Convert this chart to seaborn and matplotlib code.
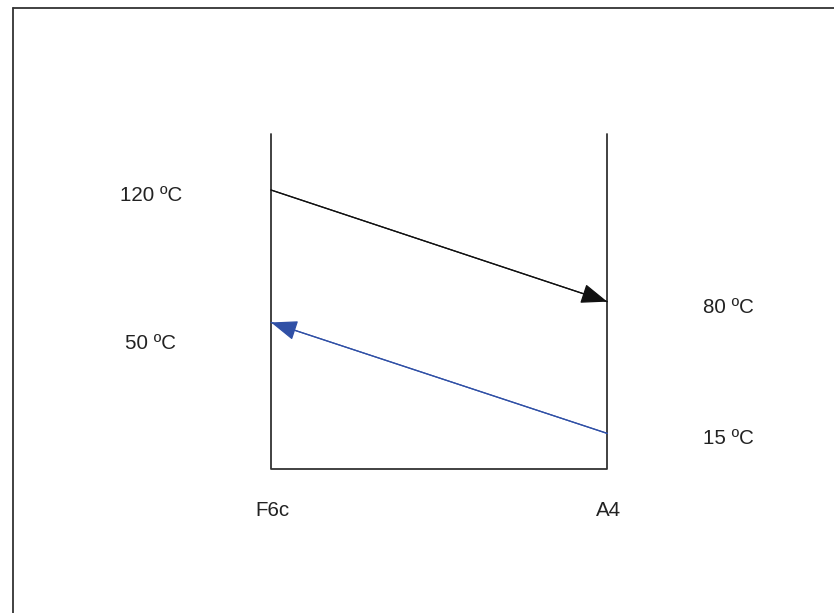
import matplotlib
matplotlib.use("Agg")
import matplotlib.pyplot as plt
from matplotlib.lines import Line2D
import pandas as pd
import seaborn as sns

# Heat exchanger temperature schematic: hot stream F6c -> A4, cold stream A4 -> F6c
ends = ["F6c", "A4"]
hot_temps = [120, 80]        # inlet at F6c, outlet at A4 (ºC)
cold_temps = [15, 50]        # inlet at A4, outlet at F6c (ºC)
hot_levels = [83.3, 50.0]    # schematic height of the hot line at F6c, A4
cold_levels = [43.8, 10.7]   # schematic height of the cold line at F6c, A4
wall_height = 100

sns.set_theme(style="white")
plt.rcParams["font.family"] = ["Liberation Sans", "DejaVu Sans"]

W, H = 834, 613
fig = plt.figure(figsize=(W / 100, H / 100), dpi=100)
ax = fig.add_axes([0, 0, 1, 1])
ax.set_xlim(-0.8058, 1.6741)
ax.set_ylim(-42.86, 139.97)
ax.axis("off")

xs = [0, 1]
text_color = "#222222"
wall_color = "#333333"
hot_color = "#111111"
cold_color = "#3050a6"

# Exchanger walls and base
box = pd.DataFrame({"x": [0, 0, 1, 1], "y": [wall_height, 0, 0, wall_height]})
sns.lineplot(data=box, x="x", y="y", sort=False, estimator=None,
             color=wall_color, lw=1.3, ax=ax)

# Stream lines
streams = pd.DataFrame({
    "x": xs + xs,
    "y": hot_levels + cold_levels,
    "stream": ["hot", "hot", "cold", "cold"],
})
sns.lineplot(data=streams, x="x", y="y", hue="stream", sort=False,
             estimator=None, palette={"hot": hot_color, "cold": cold_color},
             lw=0.9, legend=False, ax=ax)

# Arrowheads showing flow direction
head = "-|>,head_length=0.66,head_width=0.25"
ax.annotate("", xy=(xs[1], hot_levels[1]), xytext=(xs[0], hot_levels[0]),
            arrowprops=dict(arrowstyle=head, mutation_scale=25, color=hot_color,
                            lw=0.9, shrinkA=0, shrinkB=0))
ax.annotate("", xy=(xs[0], cold_levels[0]), xytext=(xs[1], cold_levels[1]),
            arrowprops=dict(arrowstyle=head, mutation_scale=25, color=cold_color,
                            lw=0.9, shrinkA=0, shrinkB=0))

# Temperature labels
fs = 14.8
left_x, right_x = -0.357, 1.359
ax.text(left_x, 80.0, f"{hot_temps[0]} ºC", ha="center", va="baseline",
        fontsize=fs, color=text_color)
ax.text(right_x, 46.7, f"{hot_temps[1]} ºC", ha="center", va="baseline",
        fontsize=fs, color=text_color)
ax.text(left_x, 35.9, f"{cold_temps[1]} ºC", ha="center", va="baseline",
        fontsize=fs, color=text_color)
ax.text(right_x, 7.5, f"{cold_temps[0]} ºC", ha="center", va="baseline",
        fontsize=fs, color=text_color)

# End names below the exchanger
for x, name in zip(xs, ends):
    ax.text(x + 0.004, -13.9, name, ha="center", va="baseline",
            fontsize=fs, color=text_color)

# Page frame (top and left edges)
fx, fy = 12.5 / W, 1 - 8.3 / H
fig.add_artist(Line2D([fx, 1], [fy, fy], transform=fig.transFigure,
                      color="#333333", lw=1.3))
fig.add_artist(Line2D([fx, fx], [0, fy], transform=fig.transFigure,
                      color="#333333", lw=1.3))

fig.savefig("out.png", dpi=100, facecolor="white")
